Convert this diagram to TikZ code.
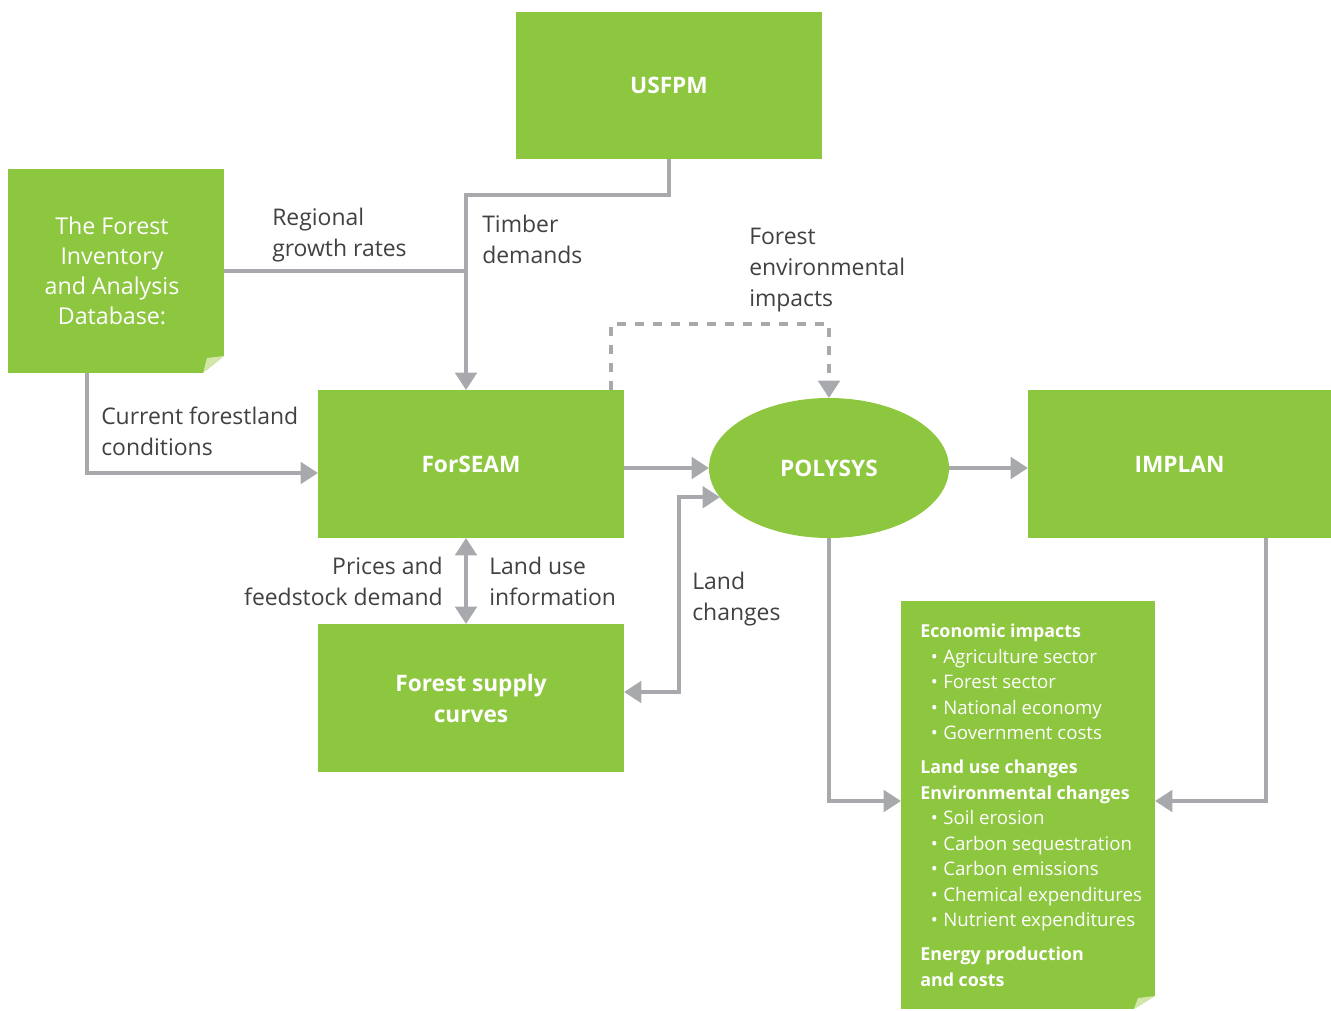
\documentclass[tikz,border=0pt]{standalone}
\usepackage{fontspec}
\setmainfont{Open Sans}
\usetikzlibrary{arrows.meta,shapes.geometric,calc}
\definecolor{grn}{HTML}{8DC63F}
\definecolor{foldc}{HTML}{D3E6A9}
\definecolor{conn}{HTML}{A7A9AC}
\definecolor{lbl}{HTML}{414042}
\newcommand\bul{\hspace*{8pt}\textbullet\hspace{4pt}}
\newcommand\hd[1]{{\fontsize{13.4}{19.1}\selectfont\bfseries #1}}
\begin{document}
\begin{tikzpicture}[x=0.75pt,y=-0.75pt,
  greenbox/.style={fill=grn, draw=none, inner sep=0pt, outer sep=0pt, text=white,
    align=center, font=\bfseries\fontsize{17}{23.25}\selectfont},
  lbltext/.style={text=lbl, inner sep=0pt, align=left, font=\fontsize{17.2}{23.25}\selectfont},
  tip/.tip={Triangle[length=13pt,width=16pt]},
  conline/.style={draw=conn, line width=3pt, -tip},
  dashline/.style={draw=conn, line width=3pt, dash pattern=on 6.5pt off 7pt, -tip}]
\useasboundingbox (0,0) rectangle (1331,1010);

% boxes
\node[greenbox, minimum width=229.5pt, minimum height=110.25pt] (usfpm) at (669,85.5) {USFPM};
\node[greenbox, minimum width=162pt, minimum height=153pt,
  font=\fontsize{17.4}{22.5}\selectfont] (fia) at (116,271) {\hspace*{-6pt}The Forest\\\hspace*{-6pt}Inventory\\\hspace*{-6pt}and Analysis\\\hspace*{-6pt}Database:};
\fill[white] ($(fia.south east)+(-21,0)$) -- (fia.south east) -- ($(fia.south east)+(0,-17)$) -- cycle;
\fill[foldc] ($(fia.south east)+(-21,0)$) -- ($(fia.south east)+(-17,-15)$) -- ($(fia.south east)+(0,-17)$) -- cycle;

\node[greenbox, minimum width=229.5pt, minimum height=111pt] (forseam) at (471,464) {ForSEAM};
\node[greenbox, ellipse, minimum width=180pt, minimum height=105pt] (polysys) at (829,468) {POLYSYS};
\node[greenbox, minimum width=227.25pt, minimum height=111pt] (implan) at (1179.5,464) {IMPLAN};
\node[greenbox, minimum width=229.5pt, minimum height=111pt] (fsc) at (471,698) {Forest supply\\curves};

\node[greenbox, minimum width=190.5pt, minimum height=306pt] (results) at (1028,805) {};
\fill[white] ($(results.south east)+(-21,0)$) -- (results.south east) -- ($(results.south east)+(0,-13)$) -- cycle;
\fill[foldc] ($(results.south east)+(-21,0)$) -- ($(results.south east)+(-17,-11)$) -- ($(results.south east)+(0,-13)$) -- cycle;
\node[anchor=north west, inner sep=0pt, text=white, align=left,
  font=\fontsize{14}{19.1}\selectfont] (restext) at (920,624)
  {\hd{Economic impacts}\\
   \bul Agriculture sector\\
   \bul Forest sector\\
   \bul National economy\\
   \bul Government costs\\[6.5pt]
   \hd{Land use changes}\\
   \hd{Environmental changes}\\
   \bul Soil erosion\\
   \bul Carbon sequestration\\
   \bul Carbon emissions\\
   \bul Chemical expenditures\\
   \bul Nutrient expenditures\\[6.5pt]
   \hd{Energy production}\\
   \hd{and costs}};

% connectors
\coordinate (j1) at (466,195);
\draw[conline] (usfpm.south) |- (j1) -- (j1 |- forseam.north);
\draw[draw=conn, line width=3pt] (fia.east |- 0,271) -- (j1 |- 0,271);
\draw[conline] ($(fia.south west)+(79,0)$) |- ($(forseam.west)+(0,9)$);
\draw[dashline] ($(forseam.north east)+(-13,0)$) |- ($(polysys.north)+(0,-74)$) -- (polysys.north);
\draw[conline] (forseam.east |- polysys.west) -- (polysys.west);
\draw[draw=conn, line width=3pt, tip-tip] ($(fsc.east)+(0,-6)$) -| ($(polysys.195)+(-41,0)$) -- (polysys.195);
\draw[draw=conn, line width=3pt, tip-tip] ($(forseam.south)+(-5,0)$) -- ($(fsc.north)+(-5,0)$);
\draw[conline] (polysys.east) -- (implan.west |- polysys.east);
\draw[conline] (polysys.south) |- ($(results.west)+(0,-4)$);
\draw[conline] ($(implan.south east)+(-65,0)$) |- ($(results.east)+(0,-4)$);

% labels
\node[lbltext, anchor=west] (l1) at (272,235) {Regional\\growth rates};
\node[lbltext, anchor=west] (l2) at (482,239) {Timber\\demands};
\node[lbltext, anchor=west] (l3) at (749,270) {Forest\\environmental\\impacts};
\node[lbltext, anchor=west] (l4) at (101,431) {Current forestland\\conditions};
\node[lbltext, anchor=east, align=right] (l5) at (443,581) {Prices and\\feedstock demand};
\node[lbltext, anchor=west] (l6) at (489,581) {Land use\\information};
\node[lbltext, anchor=west] (l7) at (692,599) {Land\\changes};
\end{tikzpicture}
\end{document}
